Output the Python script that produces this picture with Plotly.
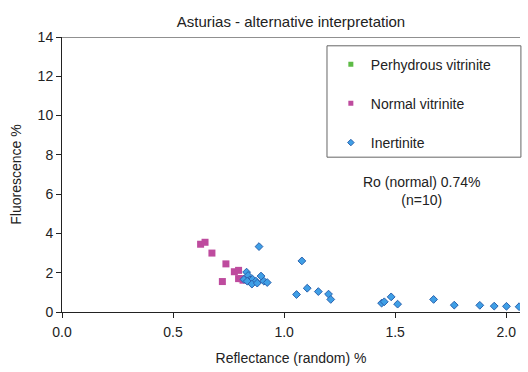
import plotly.graph_objects as go

# Normal vitrinite (magenta squares)
normal_x = [0.624, 0.644, 0.675, 0.738, 0.776, 0.795, 0.722, 0.795, 0.807, 0.815]
normal_y = [3.45, 3.55, 3.00, 2.45, 2.05, 2.12, 1.55, 1.70, 1.70, 1.62]

# Inertinite (blue diamonds)
inert_x = [0.887, 0.831, 0.838, 0.819, 0.846, 0.858, 0.834, 0.873, 0.855, 0.879,
           0.896, 0.909, 0.924, 1.080, 1.056, 1.104, 1.154, 1.200, 1.210,
           1.439, 1.451, 1.482, 1.511, 1.673, 1.766, 1.881, 1.946, 2.001, 2.058]
inert_y = [3.33, 2.03, 1.86, 1.66, 1.64, 1.67, 1.57, 1.57, 1.42, 1.47,
           1.83, 1.57, 1.50, 2.60, 0.89, 1.21, 1.04, 0.91, 0.64,
           0.45, 0.52, 0.77, 0.40, 0.64, 0.35, 0.34, 0.30, 0.29, 0.27]

# Perhydrous vitrinite (no points shown)
perhyd_x = []
perhyd_y = []

x_ticks = [0.0, 0.5, 1.0, 1.5, 2.0]
y_ticks = [0, 2, 4, 6, 8, 10, 12, 14]

GREEN = "#5DBB46"
MAGENTA = "#BE4B9E"
BLUE_FILL = "#3F9FE6"
BLUE_LINE = "#2A62AE"

FAM = "Liberation Sans, Arial, sans-serif"
TXT = "#222"

fig = go.Figure()

# data traces
fig.add_trace(go.Scatter(x=normal_x, y=normal_y, mode="markers", showlegend=False,
                         marker=dict(symbol="square", size=7, color=MAGENTA, line=dict(width=0))))
fig.add_trace(go.Scatter(x=inert_x, y=inert_y, mode="markers", showlegend=False,
                         marker=dict(symbol="diamond", size=6, color=BLUE_FILL,
                                     line=dict(width=1, color=BLUE_LINE))))

# legend-only traces
fig.add_trace(go.Scatter(x=perhyd_x or [None], y=perhyd_y or [None], mode="markers",
                         name="Perhydrous vitrinite", legendgroup="a",
                         marker=dict(symbol="square", size=5, color=GREEN)))
fig.add_trace(go.Scatter(x=[None], y=[None], mode="markers", name="Normal vitrinite",
                         legendgroup="b", marker=dict(symbol="square", size=5, color=MAGENTA)))
fig.add_trace(go.Scatter(x=[None], y=[None], mode="markers", name="Inertinite",
                         legendgroup="c",
                         marker=dict(symbol="diamond", size=5, color=BLUE_FILL,
                                     line=dict(width=1, color=BLUE_LINE))))

fig.update_layout(
    width=528, height=372,
    margin=dict(l=62, r=8, t=37, b=56),
    paper_bgcolor="white", plot_bgcolor="white",
    font=dict(family=FAM, size=14, color=TXT),
    title=dict(text="Asturias - alternative interpretation", x=(62 + 520) / 2 / 528,
               xanchor="center", y=1 - 22 / 372, yanchor="middle",
               font=dict(size=15, family=FAM, color=TXT)),
    showlegend=True,
    legend=dict(x=0.587, y=0.958, xanchor="left", yanchor="top",
                bgcolor="rgba(0,0,0,0)", borderwidth=0,
                traceorder="grouped", tracegroupgap=18,
                font=dict(size=14, family=FAM, color=TXT),
                itemwidth=30),
    xaxis=dict(range=[0, 2.062], tickvals=x_ticks, ticktext=[f"{v:.1f}" for v in x_ticks],
               showgrid=False, zeroline=False, showline=True, linecolor=TXT, linewidth=1,
               ticks="outside", ticklen=5, tickcolor=TXT, ticklabelstandoff=2,
               tickfont=dict(size=14, family=FAM, color=TXT),
               title=dict(text="Reflectance (random) %", standoff=14,
                          font=dict(size=14, family=FAM, color=TXT))),
    yaxis=dict(range=[0, 14], tickvals=y_ticks,
               showgrid=False, zeroline=False, showline=True, linecolor=TXT, linewidth=1,
               ticks="outside", ticklen=5, tickcolor=TXT,
               tickfont=dict(size=14, family=FAM, color=TXT),
               title=dict(text="Fluorescence %", standoff=12,
                          font=dict(size=14, family=FAM, color=TXT))),
    shapes=[
        dict(type="line", xref="paper", yref="y", x0=0, x1=1, y0=14, y1=14,
             line=dict(color=TXT, width=1)),
        dict(type="rect", xref="paper", yref="paper", x0=0.5786, x1=1.002, y0=0.563, y1=0.968,
             line=dict(color="#666", width=1)),
    ],
    annotations=[
        dict(text="Ro (normal) 0.74%<br>(n=10)", xref="paper", yref="paper",
             x=(421.7 - 62) / 458, y=(316 - 193) / 279, xanchor="center", yanchor="middle",
             showarrow=False, font=dict(size=14, family=FAM, color=TXT)),
    ],
)

fig.write_html("out.html")
